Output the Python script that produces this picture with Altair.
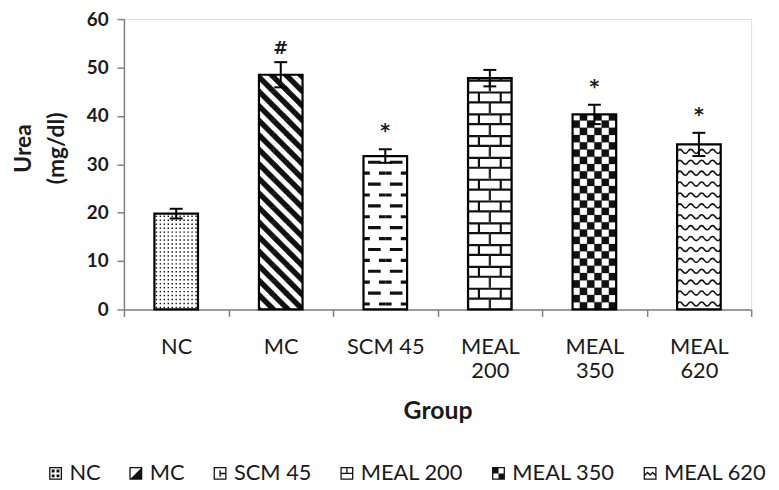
import math
import json
import altair as alt
import pandas as pd

# ---------------- data ----------------
groups = ["NC", "MC", "SCM 45", "MEAL 200", "MEAL 350", "MEAL 620"]
tick_lines = [["NC"], ["MC"], ["SCM 45"], ["MEAL", "200"], ["MEAL", "350"], ["MEAL", "620"]]
means = [19.8, 48.5, 31.7, 47.8, 40.3, 34.1]
errors = [1.0, 2.6, 1.4, 1.7, 2.0, 2.4]
markers = ["", "#", "*", "", "*", "*"]
y_ticks = [0, 10, 20, 30, 40, 50, 60]
y_title = ["Urea", "(mg/dl)"]
x_title = "Group"

# ---------------- layout / style ----------------
W, H = 633, 293
N = len(groups)
XS = W / N            # px per x unit
YS = H / 60.0         # px per mg/dl
BAR_PX = 44
HALF = BAR_PX / 2 / XS
FONT = "Lato"
INK = "#1a1a1a"
AXC = "#808080"


def rect(x0, y0, x1, y1):
    return f"M{x0:.3f},{y0:.3f}H{x1:.3f}V{y1:.3f}H{x0:.3f}Z"


def hole(x0, y0, x1, y1):
    return f"M{x0:.3f},{y0:.3f}V{y1:.3f}H{x1:.3f}V{y0:.3f}Z"


# pattern tiles (shape path in [-1,1], tile size in px)
a = 0.5
stripe = (f"M-1,-1L{-1 + a},-1L1,{1 - a}L1,1L{1 - a},1L-1,{-1 + a}Z"
          f"M{1 - a},-1L1,-1L1,{-1 + a}Z"
          f"M-1,{1 - a}L{-1 + a},1L-1,1Z")
t = 1.6 / 11
dash = (rect(-0.58, -0.5 - t, 0.58, -0.5 + t)
        + rect(-1, 0.5 - t, -0.42, 0.5 + t)
        + rect(0.42, 0.5 - t, 1, 0.5 + t))
h = 1.1 / 11
brick = (rect(-1, -1, 1, -1 + 2 * h) + rect(-1, -h, 1, h)
         + rect(-h, -1, h, 0) + rect(-1, 0, -1 + h, 1) + rect(1 - h, 0, 1, 1))
checker = rect(-1, -1, 0, 0) + rect(0, 0, 1, 1)
wave = "M-1,0Q-0.5,-0.75 0,0Q0.5,0.75 1,0"
dot = rect(-0.36, -0.36, 0.36, 0.36)

patterns = [
    dict(tile=4.0, path=dot, filled=True, sw=0),
    dict(tile=BAR_PX / 3, path=stripe, filled=True, sw=0.4),
    dict(tile=22.0, path=dash, filled=True, sw=0),
    dict(tile=22.0, path=brick, filled=True, sw=0),
    dict(tile=BAR_PX / 3, path=checker, filled=True, sw=0.3),
    dict(tile=11.0, path=wave, filled=False, sw=1.6),
]

# legend glyphs
outer = "M-1,-1H1V1H-1Z" + hole(-0.8, -0.8, 0.8, 0.8)
legend_paths = [
    outer + rect(-0.6, -0.6, -0.15, -0.15) + rect(0.15, -0.6, 0.6, -0.15)
    + rect(-0.6, 0.15, -0.15, 0.6) + rect(0.15, 0.15, 0.6, 0.6),
    outer + "M0.8,-0.8L0.8,0.8L-0.8,0.8Z",
    outer + rect(-0.1, -0.12, 0.8, 0.12) + rect(-0.1, -0.5, 0.12, 0.5),
    outer + rect(-0.8, -0.1, 0.8, 0.1) + rect(-0.1, -0.8, 0.1, 0),
    "M-1,-1H1V1H-1Z" + hole(0, -0.8, 0.8, 0) + hole(-0.8, 0, 0, 0.8),
    outer + "M-0.8,0.1L-0.4,-0.3L0,0.1L0.4,-0.3L0.8,0.1L0.8,0.4L0.4,0L0,0.4L-0.4,0L-0.8,0.4Z",
]

# ---------------- tables ----------------
centers = [i + 0.5 for i in range(N)]
bars = pd.DataFrame({
    "group": groups,
    "x": centers,
    "left": [c - HALF for c in centers],
    "right": [c + HALF for c in centers],
    "cl": [c - HALF - 1.5 / XS for c in centers],
    "cr": [c + HALF + 1.5 / XS for c in centers],
    "y": means,
    "zero": [0] * N,
    "lo": [m - e for m, e in zip(means, errors)],
    "hi": [m + e for m, e in zip(means, errors)],
    "ctop": [m + 23 / YS for m in means],
    "marker": markers,
})


def tiles(i, value, tile):
    ncols = int(round(BAR_PX / tile))
    tw = BAR_PX / ncols
    nrows = int(math.ceil(value * YS / tile))
    left = centers[i] - HALF
    xs, ys = [], []
    for r in range(nrows):
        for c in range(ncols):
            xs.append(left + (c + 0.5) * tw / XS)
            ys.append((r + 0.5) * tile / YS)
    return pd.DataFrame({"x": xs, "y": ys})


# ---------------- scales & axes ----------------
xscale = alt.Scale(domain=[0, N], nice=False, zero=False)
yscale = alt.Scale(domain=[0, 60], nice=False, zero=True)

label_expr = json.dumps(tick_lines + [""]) + "[datum.value]"
xaxis = alt.Axis(
    values=list(range(N + 1)), labelExpr=label_expr, labelOffset=XS / 2,
    title=x_title, titleFont=FONT, titleFontSize=25, titleFontWeight="bold",
    titleColor=INK, titleY=102, titleBaseline="middle",
    labelFont=FONT, labelFontSize=22, labelColor=INK, labelLineHeight=25,
    labelPadding=20, labelBaseline="top", labelAlign="center",
    labelFlush=False, labelOverlap=False, labelBound=False,
    tickSize=7, tickColor=AXC, tickWidth=1.5, domainColor=AXC, domainWidth=1.5,
    grid=False,
)
yaxis = alt.Axis(
    values=y_ticks, title=y_title, titleFont=FONT, titleFontSize=23,
    titleFontWeight="bold", titleColor=INK, titleLineHeight=33,
    titleAngle=270, titleX=-101, titleY=130, titleBaseline="middle",
    titleAlign="center",
    labelFont=FONT, labelFontSize=19, labelFontWeight="bold", labelColor=INK,
    labelPadding=9, tickSize=7, tickColor=AXC, tickWidth=1.5,
    domainColor=AXC, domainWidth=1.5, grid=False,
)


def X(f):
    return alt.X(f, type="quantitative", scale=xscale, axis=xaxis)


def Y(f):
    return alt.Y(f, type="quantitative", scale=yscale, axis=yaxis)


layers = []
for i, p in enumerate(patterns):
    df = tiles(i, means[i], p["tile"])
    if p["filled"]:
        mk = alt.Chart(df).mark_point(
            shape=p["path"], size=p["tile"] ** 2, filled=True, color="#111111",
            opacity=1, **({"stroke": "#111111", "strokeWidth": p["sw"]} if p["sw"] else {"strokeWidth": 0}))
    else:
        mk = alt.Chart(df).mark_point(
            shape=p["path"], size=p["tile"] ** 2, filled=False, color="#111111",
            opacity=1, strokeWidth=p["sw"])
    layers.append(mk.encode(x=X("x"), y=Y("y")))

base = alt.Chart(bars)
cover = base.mark_rect(color="white").encode(
    x=X("cl"), x2="cr", y=Y("y"), y2="ctop")
outline = base.mark_rect(filled=False, color="black", strokeWidth=2.2).encode(
    x=X("left"), x2="right", y=Y("zero"), y2="y")
err_rule = base.mark_rule(color="black", strokeWidth=2).encode(
    x=X("x"), y=Y("lo"), y2="hi")
cap_hi = base.mark_tick(orient="horizontal", size=13, thickness=2, color="black", opacity=1).encode(
    x=X("x"), y=Y("hi"))
cap_lo = base.mark_tick(orient="horizontal", size=13, thickness=2, color="black", opacity=1).encode(
    x=X("x"), y=Y("lo"))
hash_txt = base.transform_filter(alt.datum.marker == "#").mark_text(
    font="DejaVu Sans", fontSize=18, fontWeight="bold", baseline="alphabetic",
    dy=-8, color=INK).encode(x=X("x"), y=Y("hi"), text="marker:N")
star_txt = base.transform_filter(alt.datum.marker == "*").mark_text(
    font="DejaVu Sans", fontSize=19, fontWeight="bold", baseline="alphabetic",
    dy=-12, color=INK).encode(x=X("x"), y=Y("hi"), text="marker:N")
legend_layer = base.mark_point(filled=True, opacity=0, color="#111111", size=169).encode(
    x=X("x"), y=Y("y"),
    shape=alt.Shape("group:N", scale=alt.Scale(domain=groups, range=legend_paths),
                    legend=alt.Legend(orient="none", legendX=-80, legendY=447.5,
                                      direction="horizontal", title=None,
                                      labelFont=FONT, labelFontSize=22, labelColor=INK,
                                      symbolSize=169, symbolStrokeWidth=0,
                                      symbolFillColor="#111111",
                                      labelOffset=3, columnPadding=24, padding=0)))

chart = alt.layer(*layers, cover, outline, err_rule, cap_hi, cap_lo, hash_txt, star_txt,
                  legend_layer).properties(
    width=W, height=H,
    autosize=alt.AutoSizeParams(type="none"),
    padding={"left": 117, "top": 9, "right": 20, "bottom": 178},
).configure_view(stroke=None).configure(background="white")

chart.save("out.html", embed_options={"renderer": "svg", "actions": False})
